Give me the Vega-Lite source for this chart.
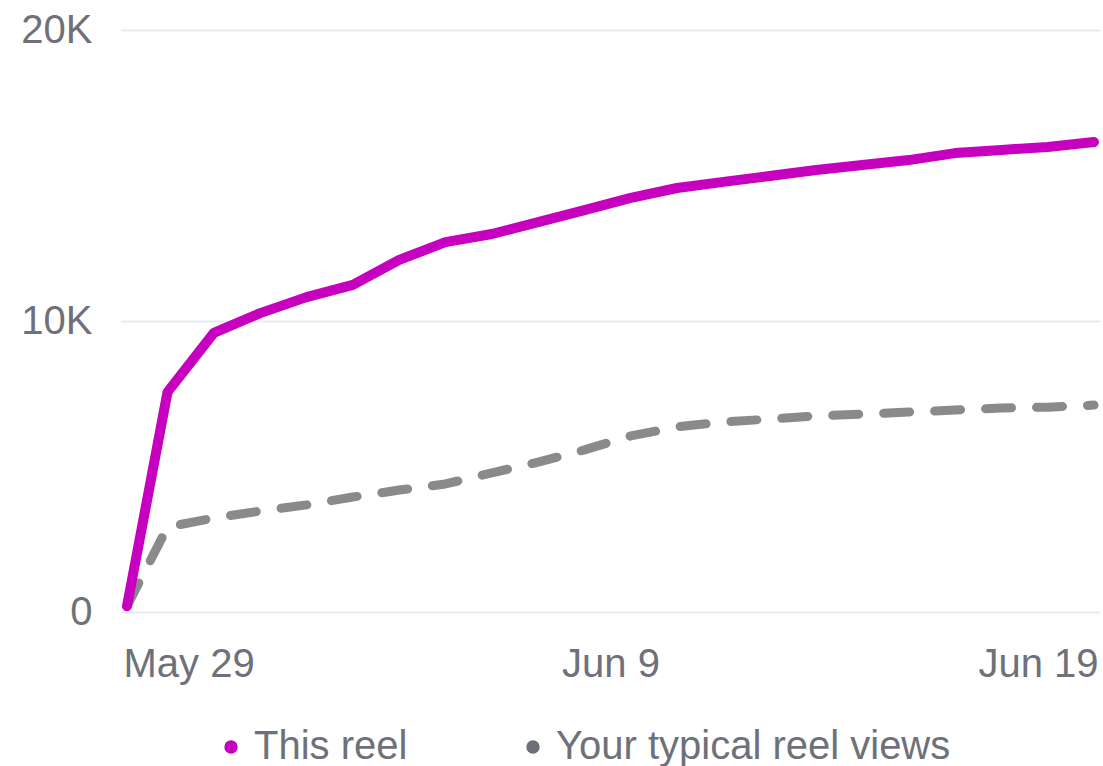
{
  "$schema": "https://vega.github.io/schema/vega-lite/v6.json",
  "width": 979,
  "height": 582,
  "autosize": {"type": "none"},
  "padding": {"left": 121, "top": 30, "right": 3, "bottom": 154},
  "background": "#ffffff",
  "config": {
    "view": {"stroke": null},
    "font": "Liberation Sans",
    "axis": {"labelFont": "Liberation Sans", "labelFontSize": 40, "labelColor": "#6E7179"},
    "legend": {"labelFont": "Liberation Sans", "labelFontSize": 40, "labelColor": "#6E7179"}
  },
  "data": {"values": [
    {"series": "This reel", "date": "2024-05-29T00:00", "views": 200},
    {"series": "This reel", "date": "2024-05-29T21:00", "views": 7560},
    {"series": "This reel", "date": "2024-05-30T21:00", "views": 9590},
    {"series": "This reel", "date": "2024-05-31T21:00", "views": 10270},
    {"series": "This reel", "date": "2024-06-01T21:00", "views": 10820},
    {"series": "This reel", "date": "2024-06-02T21:00", "views": 11240},
    {"series": "This reel", "date": "2024-06-03T21:00", "views": 12100},
    {"series": "This reel", "date": "2024-06-04T21:00", "views": 12710},
    {"series": "This reel", "date": "2024-06-05T21:00", "views": 12990},
    {"series": "This reel", "date": "2024-06-06T21:00", "views": 13400},
    {"series": "This reel", "date": "2024-06-07T21:00", "views": 13810},
    {"series": "This reel", "date": "2024-06-08T21:00", "views": 14230},
    {"series": "This reel", "date": "2024-06-09T21:00", "views": 14570},
    {"series": "This reel", "date": "2024-06-10T21:00", "views": 14780},
    {"series": "This reel", "date": "2024-06-11T21:00", "views": 14980},
    {"series": "This reel", "date": "2024-06-12T21:00", "views": 15190},
    {"series": "This reel", "date": "2024-06-13T21:00", "views": 15360},
    {"series": "This reel", "date": "2024-06-14T21:00", "views": 15530},
    {"series": "This reel", "date": "2024-06-15T21:00", "views": 15770},
    {"series": "This reel", "date": "2024-06-16T21:00", "views": 15880},
    {"series": "This reel", "date": "2024-06-17T21:00", "views": 15980},
    {"series": "This reel", "date": "2024-06-18T21:00", "views": 16150},
    {"series": "Your typical reel views", "date": "2024-05-29T00:00", "views": 200},
    {"series": "Your typical reel views", "date": "2024-05-29T21:00", "views": 2920},
    {"series": "Your typical reel views", "date": "2024-05-30T21:00", "views": 3230},
    {"series": "Your typical reel views", "date": "2024-05-31T21:00", "views": 3470},
    {"series": "Your typical reel views", "date": "2024-06-01T21:00", "views": 3680},
    {"series": "Your typical reel views", "date": "2024-06-02T21:00", "views": 3950},
    {"series": "Your typical reel views", "date": "2024-06-03T21:00", "views": 4190},
    {"series": "Your typical reel views", "date": "2024-06-04T21:00", "views": 4400},
    {"series": "Your typical reel views", "date": "2024-06-05T21:00", "views": 4780},
    {"series": "Your typical reel views", "date": "2024-06-06T21:00", "views": 5150},
    {"series": "Your typical reel views", "date": "2024-06-07T21:00", "views": 5570},
    {"series": "Your typical reel views", "date": "2024-06-08T21:00", "views": 6050},
    {"series": "Your typical reel views", "date": "2024-06-09T21:00", "views": 6360},
    {"series": "Your typical reel views", "date": "2024-06-10T21:00", "views": 6530},
    {"series": "Your typical reel views", "date": "2024-06-11T21:00", "views": 6630},
    {"series": "Your typical reel views", "date": "2024-06-12T21:00", "views": 6740},
    {"series": "Your typical reel views", "date": "2024-06-13T21:00", "views": 6800},
    {"series": "Your typical reel views", "date": "2024-06-14T21:00", "views": 6870},
    {"series": "Your typical reel views", "date": "2024-06-15T21:00", "views": 6940},
    {"series": "Your typical reel views", "date": "2024-06-16T21:00", "views": 7010},
    {"series": "Your typical reel views", "date": "2024-06-17T21:00", "views": 7040},
    {"series": "Your typical reel views", "date": "2024-06-18T21:00", "views": 7110}
  ]},
  "encoding": {
    "x": {
      "field": "date", "type": "temporal",
      "scale": {"padding": 6},
      "axis": {
        "title": null, "grid": false, "domain": false, "ticks": false,
        "values": [{"year": 2024, "month": 5, "date": 29, "hours": 0}, {"year": 2024, "month": 6, "date": 8, "hours": 10, "minutes": 30}, {"year": 2024, "month": 6, "date": 18, "hours": 21}],
        "labelExpr": "datum.index < 0.25 ? 'May 29' : (datum.index < 0.75 ? 'Jun 9' : 'Jun 19')",
        "labelFlush": 12,
        "labelFlushOffset": 4,
        "labelPadding": 32
      }
    },
    "y": {
      "field": "views", "type": "quantitative",
      "scale": {"domain": [0, 20000], "nice": false, "zero": true},
      "axis": {
        "title": null, "domain": false, "ticks": false,
        "values": [0, 10000, 20000],
        "labelExpr": "datum.value == 0 ? '0' : (datum.value / 1000) + 'K'",
        "gridColor": "#E7EAEE", "gridWidth": 2,
        "labelPadding": 29
      }
    },
    "color": {
      "field": "series", "type": "nominal",
      "scale": {"domain": ["This reel", "Your typical reel views"], "range": ["#C600BE", "#8A8A8A"]},
      "legend": {
        "title": null, "orient": "none", "direction": "horizontal",
        "legendX": 90, "legendY": 697,
        "symbolType": "circle", "symbolSize": 180, "symbolStrokeWidth": 0,
        "labelOffset": 3, "columnPadding": 105, "padding": 0, "labelLimit": 0,
        "encode": {"symbols": {"update": {"fill": {"signal": "datum.value === 'This reel' ? '#C600BE' : '#6C6F78'"}, "strokeWidth": {"value": 0}, "opacity": {"value": 1}}}}
      }
    }
  },
  "layer": [
    {
      "transform": [{"filter": "datum.series === 'Your typical reel views'"}],
      "mark": {"type": "line", "strokeWidth": 9, "strokeDash": [26, 25], "strokeCap": "round", "strokeJoin": "round"}
    },
    {
      "transform": [{"filter": "datum.series === 'This reel'"}],
      "mark": {"type": "line", "strokeWidth": 10, "strokeCap": "round", "strokeJoin": "round"}
    }
  ]
}
